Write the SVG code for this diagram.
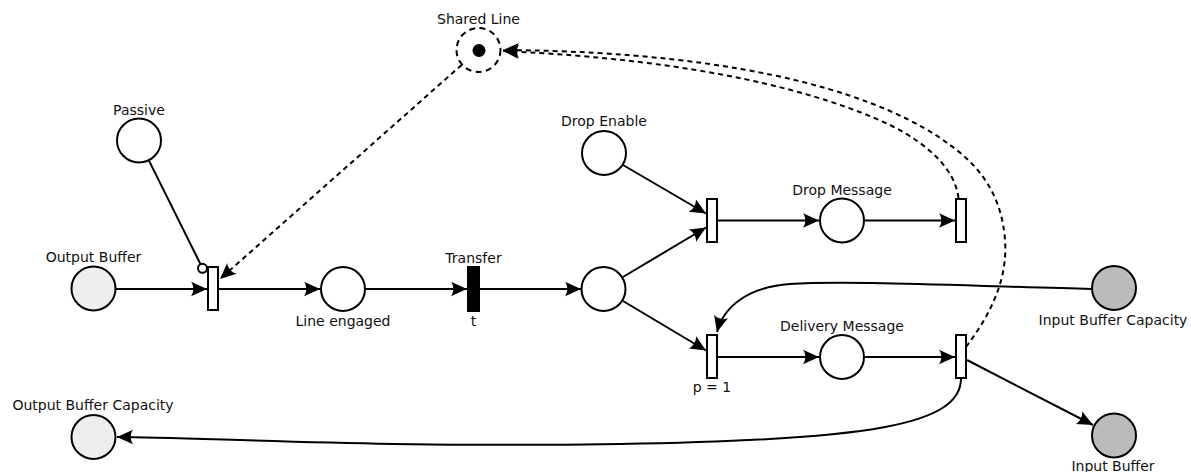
<svg xmlns="http://www.w3.org/2000/svg" width="1191" height="472" viewBox="0 0 1191 472">
<defs>
<style>
.pl{fill:#ffffff;stroke:#000;stroke-width:2}
.lg{fill:#eeeeee;stroke:#000;stroke-width:2}
.dg{fill:#bbbbbb;stroke:#000;stroke-width:2}
.tr{fill:#ffffff;stroke:#000;stroke-width:2}
.trb{fill:#000;stroke:#000;stroke-width:2}
.ln{fill:none;stroke:#000;stroke-width:2}
.ds{fill:none;stroke:#000;stroke-width:2;stroke-dasharray:5,4}
.lb{font-family:"DejaVu Sans",Verdana,sans-serif;font-size:14px;fill:#111;text-anchor:middle}
</style>
<marker id="arr" markerUnits="userSpaceOnUse" viewBox="0 0 16 16" refX="16" refY="8" markerWidth="16" markerHeight="16" orient="auto">
<path d="M16,8 L0,0.8 C3,4.5 3,11.5 0,15.2 Z" fill="#000"/>
</marker>
</defs>
<rect width="1191" height="472" fill="#ffffff"/>

<g id="connectors">
<line class="ln" x1="116" y1="289" x2="207" y2="289" marker-end="url(#arr)"/>
<line class="ln" x1="149" y1="160.6" x2="200.3" y2="263.8"/>
<line class="ds" x1="461.7" y1="64.9" x2="220" y2="279" marker-end="url(#arr)"/>
<line class="ln" x1="219" y1="289" x2="320" y2="289" marker-end="url(#arr)"/>
<line class="ln" x1="366" y1="289" x2="467" y2="289" marker-end="url(#arr)"/>
<line class="ln" x1="480" y1="289" x2="581" y2="289" marker-end="url(#arr)"/>
<line class="ln" x1="623" y1="165" x2="706" y2="213.5" marker-end="url(#arr)"/>
<line class="ln" x1="623" y1="277" x2="706" y2="227.5" marker-end="url(#arr)"/>
<line class="ln" x1="623" y1="301" x2="706" y2="350.5" marker-end="url(#arr)"/>
<line class="ln" x1="718" y1="220.5" x2="819" y2="220.5" marker-end="url(#arr)"/>
<line class="ln" x1="865" y1="220.5" x2="955" y2="220.5" marker-end="url(#arr)"/>
<line class="ln" x1="718" y1="357" x2="819" y2="357" marker-end="url(#arr)"/>
<line class="ln" x1="865" y1="357" x2="955" y2="357" marker-end="url(#arr)"/>
<line class="ln" x1="967" y1="360" x2="1093" y2="425" marker-end="url(#arr)"/>
<path class="ds" d="M958.5,198 C955,170 930,145 890,125 C820,92 700,60 503,51" marker-end="url(#arr)"/>
<path class="ds" d="M966,347 C990,315 1008,280 1005,240 C1002,200 985,170 950,145 C890,100 760,52 503,50" marker-end="url(#arr)"/>
<path class="ln" d="M1091,289 C1000,287 850,280 790,284 C750,287 724,305 717,332" marker-end="url(#arr)"/>
<path class="ln" d="M961,379 C960,425 870,440 620,444 S200,437 117,437" marker-end="url(#arr)"/>
</g>

<g id="shared-line">
<circle cx="478.5" cy="50" r="22" fill="#fff" stroke="#000" stroke-width="2" stroke-dasharray="6,4.4"/>
<circle cx="479" cy="50.5" r="6.5" fill="#000"/>
<text class="lb" x="478.5" y="24">Shared Line</text>
</g>
<g id="passive">
<circle class="pl" cx="139" cy="140.5" r="22"/>
<text class="lb" x="139" y="115">Passive</text>
</g>
<g id="output-buffer">
<circle class="lg" cx="93.5" cy="288.5" r="22"/>
<text class="lb" x="93.5" y="262">Output Buffer</text>
</g>
<g id="t-engage">
<rect class="tr" x="208" y="267" width="10" height="43"/>
<circle class="pl" cx="202.5" cy="268.3" r="4.5"/>
</g>
<g id="line-engaged">
<circle class="pl" cx="343" cy="289" r="22"/>
<text class="lb" x="343" y="326">Line engaged</text>
</g>
<g id="transfer">
<rect class="trb" x="468" y="267" width="11" height="44"/>
<text class="lb" x="473.5" y="263">Transfer</text>
<text class="lb" x="473.5" y="326">t</text>
</g>
<g id="p-mid">
<circle class="pl" cx="603.5" cy="289" r="22"/>
</g>
<g id="drop-enable">
<circle class="pl" cx="604" cy="153" r="22"/>
<text class="lb" x="604" y="126">Drop Enable</text>
</g>
<g id="t-drop">
<rect class="tr" x="707" y="199" width="10" height="43"/>
</g>
<g id="drop-message">
<circle class="pl" cx="842" cy="220.5" r="22"/>
<text class="lb" x="842" y="195">Drop Message</text>
</g>
<g id="t-drop-end">
<rect class="tr" x="956" y="199" width="10" height="43"/>
</g>
<g id="t-deliver">
<rect class="tr" x="707" y="335" width="10" height="43"/>
<text class="lb" x="712" y="392">p = 1</text>
</g>
<g id="delivery-message">
<circle class="pl" cx="842" cy="357" r="22"/>
<text class="lb" x="842" y="331">Delivery Message</text>
</g>
<g id="t-deliver-end">
<rect class="tr" x="956" y="335" width="10" height="43"/>
</g>
<g id="input-buffer-capacity">
<circle class="dg" cx="1114" cy="288" r="22"/>
<text class="lb" x="1113" y="325">Input Buffer Capacity</text>
</g>
<g id="input-buffer">
<circle class="dg" cx="1114" cy="435.5" r="22"/>
<text class="lb" x="1113" y="471">Input Buffer</text>
</g>
<g id="output-buffer-capacity">
<circle class="lg" cx="93.5" cy="437" r="22"/>
<text class="lb" x="93" y="410">Output Buffer Capacity</text>
</g>
</svg>
